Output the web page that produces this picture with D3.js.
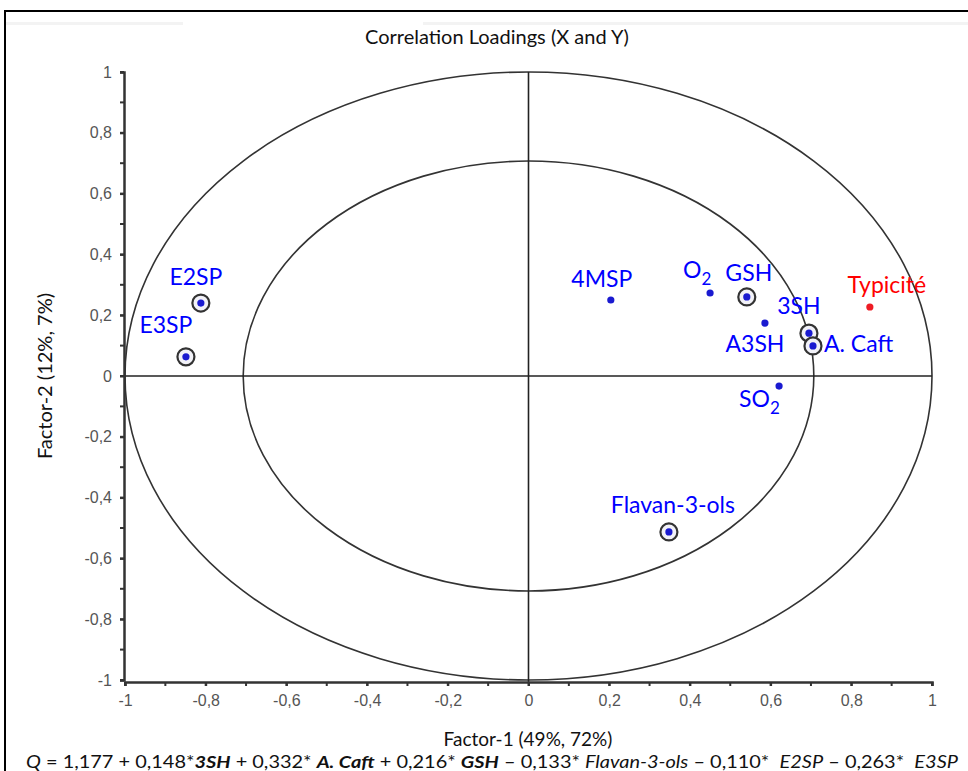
<!DOCTYPE html>
<html><head><meta charset="utf-8">
<script src="https://cdn.jsdelivr.net/npm/d3@7"></script>
<style>body{margin:0;background:#fff}svg{display:block}</style>
</head><body>
<script>
const names   = ["E2SP","E3SP","4MSP","O2","GSH","A3SH","3SH","A. Caft","SO2","Flavan-3-ols","Typicité"];
const factor1 = [-0.812,-0.849,0.204,0.450,0.541,0.586,0.695,0.705,0.621,0.348,0.846];
const factor2 = [0.240,0.063,0.250,0.273,0.260,0.174,0.141,0.099,-0.033,-0.513,0.227];
const circled = [true,true,false,false,true,false,true,true,false,true,false];
const isY     = [false,false,false,false,false,false,false,false,false,false,true];
const tickVals = [-1,-0.8,-0.6,-0.4,-0.2,0,0.2,0.4,0.6,0.8,1];
const ellipseRadii = [1, Math.SQRT1_2];
// label anchor offsets (px) relative to point: [dx, dy, anchor]
const labelPos = [[-5,-18,"middle"],[-20,-24,"middle"],[-9,-13,"middle"],[-27,-15,"start"],[2,-16,"middle"],[-10,29,"middle"],[-10,-19,"middle"],[11,6,"start"],[-40,21,"start"],[4,-19,"middle"],[17,-14,"middle"]];

const W=968,H=771;
const svg=d3.select("body").append("svg").attr("width",W).attr("height",H);
const x=d3.scaleLinear().domain([-1,1]).range([125,932]);
const y=d3.scaleLinear().domain([-1,1]).range([680,72]);
const cal="Lato, 'Open Sans', sans-serif";

// frame
svg.append("line").attr("x1",5).attr("x2",968).attr("y1",11).attr("y2",11).attr("stroke","#000").attr("stroke-width",2);
svg.append("line").attr("x1",5).attr("x2",5).attr("y1",10).attr("y2",771).attr("stroke","#000").attr("stroke-width",2);
svg.append("rect").attr("x",6).attr("y",22).attr("width",962).attr("height",3).attr("fill","#f3f3f3");
svg.append("rect").attr("x",183).attr("y",20).attr("width",240).attr("height",8).attr("fill","#fff");

// title
svg.append("text").attr("x",497).attr("y",44).attr("text-anchor","middle")
  .style("font-family",cal).style("font-size","20px").attr("fill","#111")
  .text("Correlation Loadings (X and Y)");

const g=svg.append("g");
ellipseRadii.forEach(r=>{
  g.append("ellipse").attr("cx",x(0)).attr("cy",y(0))
   .attr("rx",x(r)-x(0)).attr("ry",y(0)-y(r))
   .attr("fill","none").attr("stroke","#333").attr("stroke-width",1.6);
});
g.append("line").attr("x1",x(-1)).attr("x2",x(1)).attr("y1",y(0)).attr("y2",y(0)).attr("stroke","#222").attr("stroke-width",1.6);
g.append("line").attr("x1",x(0)).attr("x2",x(0)).attr("y1",y(1)).attr("y2",y(-1)+2).attr("stroke","#222").attr("stroke-width",1.6);

// axes
const fmt=d=>d===0?"0":(d===1||d===-1)?String(d):String(d).replace(".",",");
const minor=d3.range(-1,1.0001,0.1);
const xAxis=d3.axisBottom(x).tickValues(tickVals).tickFormat(fmt).tickSize(4).tickPadding(9);
const yAxis=d3.axisLeft(y).tickValues(tickVals).tickFormat(fmt).tickSize(4).tickPadding(8);
const xa=svg.append("g").attr("transform",`translate(0,${y(-1)+2})`).call(xAxis);
const ya=svg.append("g").attr("transform",`translate(${x(-1)-1},0)`).call(yAxis);
[xa,ya].forEach(a=>{
  a.select(".domain").attr("stroke","#333").attr("stroke-width",2.5);
  a.selectAll(".tick line").attr("stroke","#333").attr("stroke-width",2);
  a.selectAll("text").attr("fill","#555").style("font-family","'Liberation Sans', Arial, sans-serif").style("font-size","16px");
});
xa.selectAll(".minor").data(minor).enter().append("line").attr("class","minor")
  .attr("x1",d=>x(d)).attr("x2",d=>x(d)).attr("y1",0).attr("y2",4).attr("stroke","#333").attr("stroke-width",2);
ya.selectAll(".minor").data(minor).enter().append("line").attr("class","minor")
  .attr("y1",d=>y(d)).attr("y2",d=>y(d)).attr("x1",0).attr("x2",-4).attr("stroke","#333").attr("stroke-width",2);

// points
const pts=names.map((n,i)=>({n,x:factor1[i],y:factor2[i],c:circled[i],yv:isY[i],lp:labelPos[i]}));
pts.filter(d=>d.c).forEach(d=>{
  g.append("circle").attr("cx",x(d.x)).attr("cy",y(d.y)).attr("r",8.5)
   .attr("fill","#f2f2f8").attr("stroke","#333").attr("stroke-width",2.2);
});
pts.forEach(d=>{
  g.append("circle").attr("cx",x(d.x)).attr("cy",y(d.y)).attr("r",3.6)
   .attr("fill",d.yv?"#ee1c24":"#1a1ad0");
});
pts.forEach(d=>{
  const t=g.append("text").attr("x",x(d.x)+d.lp[0]).attr("y",y(d.y)+d.lp[1]).attr("text-anchor",d.lp[2])
   .style("font-family",cal).style("font-size","23px")
   .attr("fill",d.yv?"#ff0000":"#0000ff");
  const m=d.n.match(/^(S?O)2$/);
  if(m){ t.append("tspan").text(m[1]); t.append("tspan").attr("dy",7).style("font-size","17px").text("2"); }
  else t.text(d.n);
});

// axis titles
svg.append("text").attr("x",528).attr("y",746).attr("text-anchor","middle")
  .style("font-family",cal).style("font-size","19px").attr("fill","#111")
  .text("Factor-1 (49%, 72%)");
svg.append("text").attr("transform","translate(52,376) rotate(-90)").attr("text-anchor","middle")
  .style("font-family",cal).style("font-size","20px").attr("fill","#111")
  .text("Factor-2 (12%, 7%)");

// formula
const parts=[["Q","italic","normal"],[" = 1,177 + 0,148*","normal","normal"],["3SH","italic","bold"],[" + 0,332* ","normal","normal"],["A. Caft","italic","bold"],[" + 0,216* ","normal","normal"],["GSH","italic","bold"],[" – 0,133* ","normal","normal"],["Flavan-3-ols","italic","normal"],[" – 0,110*  ","normal","normal"],["E2SP","italic","normal"],[" – 0,263*  ","normal","normal"],["E3SP","italic","normal"]];
const ft=svg.append("text").attr("x",26).attr("y",768).attr("textLength",932).attr("lengthAdjust","spacingAndGlyphs")
  .style("font-family",cal).style("font-size","17px").attr("fill","#111").attr("xml:space","preserve");
parts.forEach(p=>ft.append("tspan").style("font-style",p[1]).style("font-weight",p[2]).text(p[0]));
</script>
</body></html>
